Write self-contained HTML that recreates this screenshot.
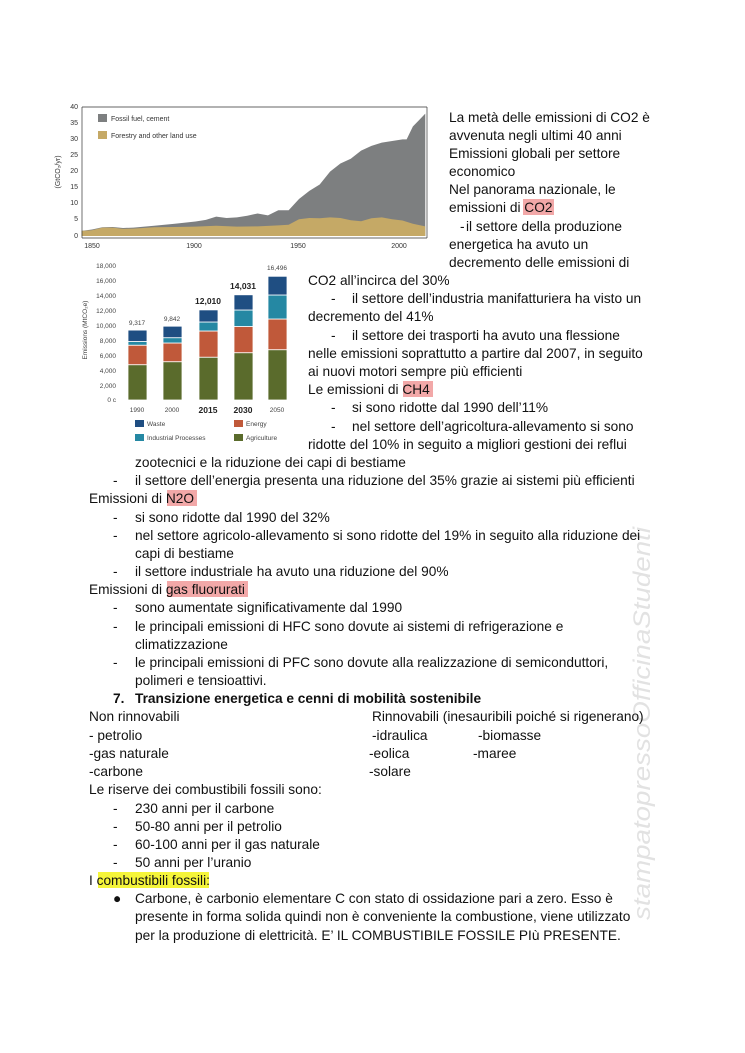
<!DOCTYPE html>
<html><head><meta charset="utf-8"><style>
html,body{margin:0;padding:0;background:#fff}
svg{display:block}
.t{font-family:"Liberation Sans",Arial,sans-serif;font-size:13.7px;fill:#111}
.s{font-family:"Liberation Sans",Arial,sans-serif;font-size:7px;fill:#333}
.b{font-family:"Liberation Sans",Arial,sans-serif;font-size:6.5px;fill:#444}
</style></head><body>
<svg width="745" height="1053" viewBox="0 0 745 1053" xmlns="http://www.w3.org/2000/svg">
<rect width="745" height="1053" fill="#fff"/>
<g transform="translate(92,236) scale(2.07,-3.22) translate(-1850,0)">
<polygon fill="#7d7f80" points="1845,0 1845,1.6 1850,2 1855,2.7 1860,2.8 1865,2.5 1870,2.6 1880,3.2 1890,3.8 1900,4.5 1905,5 1910,6 1915,5.6 1920,5.8 1925,6.3 1930,7 1935,6.4 1940,8 1945,8 1950,11.5 1955,14 1960,16 1965,20 1970,22.5 1975,24 1980,26.5 1985,28 1990,29 1995,29.5 2000,30 2002,30 2005,34 2008,36 2011,38 2011,0"/>
<polygon fill="#c5a966" points="1845,0 1845,1.6 1850,1.8 1855,2.6 1860,2.6 1865,2.2 1870,2.3 1880,2.7 1890,2.8 1900,2.9 1910,3.2 1920,2.9 1930,3 1940,3.3 1945,3.5 1950,5.2 1955,5.6 1960,5.5 1965,5.8 1970,5.6 1975,4.9 1980,4.6 1985,5.5 1990,5.8 1995,5.2 2000,4.8 2005,3.8 2011,3 2011,0"/>
</g>
<g stroke="#333" stroke-width="0.7" fill="none">
<line x1="82" y1="107" x2="82" y2="238"/>
<line x1="82" y1="238" x2="427" y2="238"/>
<line x1="427" y1="107" x2="427" y2="238"/>
<line x1="82" y1="107" x2="427" y2="107"/>
</g>
<g class="s" text-anchor="end">
<text x="78" y="109">40</text><text x="78" y="125">35</text><text x="78" y="141">30</text><text x="78" y="157">25</text><text x="78" y="173">20</text><text x="78" y="189">15</text><text x="78" y="205">10</text><text x="78" y="221">5</text><text x="78" y="238">0</text>
</g>
<g class="s" text-anchor="middle">
<text x="92" y="248">1850</text><text x="194" y="248">1900</text><text x="298" y="248">1950</text><text x="399" y="248">2000</text>
</g>
<text class="s" transform="translate(60,172) rotate(-90)" text-anchor="middle">(GtCO₂/yr)</text>
<rect x="98" y="114" width="9" height="8" fill="#7d7f80"/>
<text class="s" x="111" y="121">Fossil fuel, cement</text>
<rect x="98" y="131" width="9" height="8" fill="#c5a966"/>
<text class="s" x="111" y="138">Forestry and other land use</text>
<g class="b" text-anchor="end">
<text x="116" y="268">18,000</text><text x="116" y="283">16,000</text><text x="116" y="298">14,000</text><text x="116" y="313">12,000</text><text x="116" y="328">10,000</text><text x="116" y="343">8,000</text><text x="116" y="358">6,000</text><text x="116" y="373">4,000</text><text x="116" y="388">2,000</text><text x="116" y="402">0 c</text>
</g>
<text class="b" transform="translate(87,330) rotate(-90)" text-anchor="middle">Emissions (MtCO₂e)</text>
<g stroke="#fff" stroke-width="0.8">
<rect x="128" y="364.7" width="19" height="35.3" fill="#5a6b2c"/>
<rect x="128" y="345.2" width="19" height="19.5" fill="#c0593a"/>
<rect x="128" y="341.5" width="19" height="3.7" fill="#2588a3"/>
<rect x="128" y="330.1" width="19" height="11.4" fill="#1f4e82"/>
<rect x="163" y="361.7" width="19" height="38.3" fill="#5a6b2c"/>
<rect x="163" y="343" width="19" height="18.7" fill="#c0593a"/>
<rect x="163" y="337.7" width="19" height="5.3" fill="#2588a3"/>
<rect x="163" y="326.2" width="19" height="11.5" fill="#1f4e82"/>
<rect x="199" y="357.2" width="19" height="42.8" fill="#5a6b2c"/>
<rect x="199" y="331" width="19" height="26.2" fill="#c0593a"/>
<rect x="199" y="322" width="19" height="9" fill="#2588a3"/>
<rect x="199" y="309.9" width="19" height="12.1" fill="#1f4e82"/>
<rect x="234" y="352.7" width="19" height="47.3" fill="#5a6b2c"/>
<rect x="234" y="326.5" width="19" height="26.2" fill="#c0593a"/>
<rect x="234" y="310" width="19" height="16.5" fill="#2588a3"/>
<rect x="234" y="294.8" width="19" height="15.2" fill="#1f4e82"/>
<rect x="268" y="349.7" width="19" height="50.3" fill="#5a6b2c"/>
<rect x="268" y="319" width="19" height="30.7" fill="#c0593a"/>
<rect x="268" y="295" width="19" height="24" fill="#2588a3"/>
<rect x="268" y="276.3" width="19" height="18.7" fill="#1f4e82"/>
</g>
<g class="b" text-anchor="middle">
<text x="137" y="325">9,317</text><text x="172" y="321">9,842</text>
<text x="208" y="304" style="font-weight:bold;font-size:8.5px;fill:#222">12,010</text>
<text x="243" y="289" style="font-weight:bold;font-size:8.5px;fill:#222">14,031</text>
<text x="277" y="270">16,496</text>
<text x="137" y="412">1990</text><text x="172" y="412">2000</text>
<text x="208" y="413" style="font-weight:bold;font-size:8.5px;fill:#222">2015</text>
<text x="243" y="413" style="font-weight:bold;font-size:8.5px;fill:#222">2030</text>
<text x="277" y="412">2050</text>
</g>
<rect x="135" y="420" width="9" height="7" fill="#1f4e82"/><text class="b" x="147" y="426">Waste</text>
<rect x="234" y="420" width="9" height="7" fill="#c0593a"/><text class="b" x="246" y="426">Energy</text>
<rect x="135" y="434" width="9" height="7" fill="#2588a3"/><text class="b" x="147" y="440">Industrial Processes</text>
<rect x="234" y="434" width="9" height="7" fill="#5a6b2c"/><text class="b" x="246" y="440">Agriculture</text>
<rect x="523" y="199" width="31" height="16" fill="#f2a8a8"/>
<rect x="403" y="381" width="30" height="16" fill="#f2a8a8"/>
<rect x="167" y="490" width="30" height="16" fill="#f2a8a8"/>
<rect x="167" y="581" width="81" height="16" fill="#f2a8a8"/>
<rect x="98" y="872" width="111" height="16" fill="#f5f53a"/>
<text transform="translate(650,920) rotate(-90)" textLength="393" lengthAdjust="spacingAndGlyphs" style="font-family:'Liberation Sans',sans-serif;font-style:italic;font-size:24px;fill:#e2e2e2">stampatopressoOfficinaStudenti</text>
<g class="t">
<text x="449" y="122">La metà delle emissioni di CO2 è</text>
<text x="449" y="140">avvenuta negli ultimi 40 anni</text>
<text x="449" y="158">Emissioni globali per settore</text>
<text x="449" y="176">economico</text>
<text x="449" y="194">Nel panorama nazionale, le</text>
<text x="449" y="212">emissioni di CO2</text>
<text x="460" y="231">-</text><text x="466" y="231">il settore della produzione</text>
<text x="449" y="249">energetica ha avuto un</text>
<text x="449" y="267">decremento delle emissioni di</text>
<text x="308" y="285">CO2 all’incirca del 30%</text>
<text x="331" y="303">-</text><text x="352" y="303">il settore dell’industria manifatturiera ha visto un</text>
<text x="308" y="321">decremento del 41%</text>
<text x="331" y="340">-</text><text x="352" y="340">il settore dei trasporti ha avuto una flessione</text>
<text x="308" y="358">nelle emissioni soprattutto a partire dal 2007, in seguito</text>
<text x="308" y="376">ai nuovi motori sempre più efficienti</text>
<text x="308" y="394">Le emissioni di CH4</text>
<text x="331" y="412">-</text><text x="352" y="412">si sono ridotte dal 1990 dell’11%</text>
<text x="331" y="431">-</text><text x="352" y="431">nel settore dell’agricoltura-allevamento si sono</text>
<text x="308" y="449">ridotte del 10% in seguito a migliori gestioni dei reflui</text>
<text x="135" y="467">zootecnici e la riduzione dei capi di bestiame</text>
<text x="113" y="485">-</text><text x="135" y="485">il settore dell’energia presenta una riduzione del 35% grazie ai sistemi più efficienti</text>
<text x="89" y="503">Emissioni di N2O</text>
<text x="113" y="522">-</text><text x="135" y="522">si sono ridotte dal 1990 del 32%</text>
<text x="113" y="540">-</text><text x="135" y="540">nel settore agricolo-allevamento si sono ridotte del 19% in seguito alla riduzione dei</text>
<text x="135" y="558">capi di bestiame</text>
<text x="113" y="576">-</text><text x="135" y="576">il settore industriale ha avuto una riduzione del 90%</text>
<text x="89" y="594">Emissioni di gas fluorurati</text>
<text x="113" y="612">-</text><text x="135" y="612">sono aumentate significativamente dal 1990</text>
<text x="113" y="631">-</text><text x="135" y="631">le principali emissioni di HFC sono dovute ai sistemi di refrigerazione e</text>
<text x="135" y="649">climatizzazione</text>
<text x="113" y="667">-</text><text x="135" y="667">le principali emissioni di PFC sono dovute alla realizzazione di semiconduttori,</text>
<text x="135" y="685">polimeri e tensioattivi.</text>
<text x="113" y="703" font-weight="bold">7.</text><text x="135" y="703" font-weight="bold">Transizione energetica e cenni di mobilità sostenibile</text>
<text x="89" y="721">Non rinnovabili</text><text x="372" y="721">Rinnovabili (inesauribili poiché si rigenerano)</text>
<text x="89" y="740">- petrolio</text><text x="372" y="740">-idraulica</text><text x="478" y="740">-biomasse</text>
<text x="89" y="758">-gas naturale</text><text x="369" y="758">-eolica</text><text x="473" y="758">-maree</text>
<text x="89" y="776">-carbone</text><text x="369" y="776">-solare</text>
<text x="89" y="794">Le riserve dei combustibili fossili sono:</text>
<text x="113" y="813">-</text><text x="135" y="813">230 anni per il carbone</text>
<text x="113" y="831">-</text><text x="135" y="831">50-80 anni per il petrolio</text>
<text x="113" y="849">-</text><text x="135" y="849">60-100 anni per il gas naturale</text>
<text x="113" y="867">-</text><text x="135" y="867">50 anni per l’uranio</text>
<text x="89" y="885">I combustibili fossili:</text>
<text x="113" y="903">●</text><text x="135" y="903">Carbone, è carbonio elementare C con stato di ossidazione pari a zero. Esso è</text>
<text x="135" y="921">presente in forma solida quindi non è conveniente la combustione, viene utilizzato</text>
<text x="135" y="940">per la produzione di elettricità. E’ IL COMBUSTIBILE FOSSILE PIù PRESENTE.</text>
</g>
</svg>
</body></html>
